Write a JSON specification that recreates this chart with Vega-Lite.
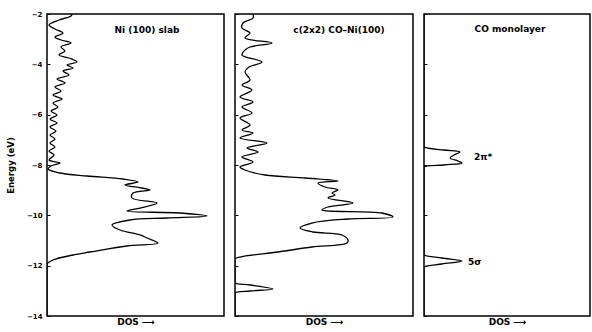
{
  "$schema": "https://vega.github.io/schema/vega-lite/v6.json",
  "padding": {"left": 5, "top": 9, "right": 0, "bottom": 0},
  "autosize": {"type": "pad"},
  "spacing": 8,
  "config": {
    "view": {"stroke": "black", "strokeWidth": 1.5},
    "font": "DejaVu Sans",
    "axis": {"grid": false, "tickColor": "black", "labelColor": "black", "titleColor": "black"}
  },
  "datasets": {
    "ni": [
      {"E": -2.000, "dos": 25}, {"E": -2.079, "dos": 24}, {"E": -2.238, "dos": 12}, {"E": -2.437, "dos": 2},
      {"E": -2.596, "dos": 8}, {"E": -2.755, "dos": 16}, {"E": -2.914, "dos": 8}, {"E": -3.033, "dos": 14},
      {"E": -3.152, "dos": 24}, {"E": -3.311, "dos": 14}, {"E": -3.470, "dos": 18}, {"E": -3.629, "dos": 12},
      {"E": -3.748, "dos": 22}, {"E": -3.907, "dos": 30}, {"E": -4.026, "dos": 20}, {"E": -4.146, "dos": 26},
      {"E": -4.265, "dos": 16}, {"E": -4.424, "dos": 22}, {"E": -4.583, "dos": 10}, {"E": -4.742, "dos": 18},
      {"E": -4.901, "dos": 8}, {"E": -5.060, "dos": 14}, {"E": -5.219, "dos": 6}, {"E": -5.377, "dos": 15},
      {"E": -5.536, "dos": 6}, {"E": -5.695, "dos": 11}, {"E": -5.854, "dos": 4}, {"E": -6.013, "dos": 10},
      {"E": -6.172, "dos": 3}, {"E": -6.331, "dos": 10}, {"E": -6.490, "dos": 3}, {"E": -6.649, "dos": 9},
      {"E": -6.808, "dos": 3}, {"E": -6.967, "dos": 8}, {"E": -7.126, "dos": 3}, {"E": -7.285, "dos": 8},
      {"E": -7.444, "dos": 2}, {"E": -7.603, "dos": 7}, {"E": -7.802, "dos": 2}, {"E": -7.921, "dos": 13},
      {"E": -8.040, "dos": 4}, {"E": -8.159, "dos": 1}, {"E": -8.318, "dos": 13}, {"E": -8.437, "dos": 40},
      {"E": -8.556, "dos": 76}, {"E": -8.675, "dos": 91}, {"E": -8.795, "dos": 78}, {"E": -8.914, "dos": 95},
      {"E": -8.993, "dos": 103}, {"E": -9.113, "dos": 86}, {"E": -9.311, "dos": 85}, {"E": -9.510, "dos": 110},
      {"E": -9.709, "dos": 93}, {"E": -9.828, "dos": 80}, {"E": -9.907, "dos": 133}, {"E": -10.026, "dos": 160},
      {"E": -10.106, "dos": 120}, {"E": -10.185, "dos": 83}, {"E": -10.384, "dos": 65}, {"E": -10.583, "dos": 73},
      {"E": -10.781, "dos": 93}, {"E": -10.901, "dos": 100}, {"E": -11.099, "dos": 111}, {"E": -11.219, "dos": 80},
      {"E": -11.457, "dos": 43}, {"E": -11.576, "dos": 26}, {"E": -11.775, "dos": 6}, {"E": -11.934, "dos": 0},
      {"E": -12.02, "dos": 0}, {"E": -14.0, "dos": 0}
    ],
    "coni": [
      {"E": -2.000, "dos": 18}, {"E": -2.159, "dos": 18}, {"E": -2.358, "dos": 8}, {"E": -2.556, "dos": 7},
      {"E": -2.755, "dos": 15}, {"E": -2.954, "dos": 10}, {"E": -3.152, "dos": 37}, {"E": -3.311, "dos": 15},
      {"E": -3.430, "dos": 10}, {"E": -3.629, "dos": 7}, {"E": -3.907, "dos": 27}, {"E": -4.106, "dos": 14},
      {"E": -4.305, "dos": 10}, {"E": -4.623, "dos": 15}, {"E": -4.821, "dos": 7}, {"E": -5.020, "dos": 17},
      {"E": -5.298, "dos": 5}, {"E": -5.497, "dos": 18}, {"E": -5.695, "dos": 7}, {"E": -5.934, "dos": 17},
      {"E": -6.132, "dos": 5}, {"E": -6.411, "dos": 15}, {"E": -6.609, "dos": 7}, {"E": -6.728, "dos": 18},
      {"E": -6.927, "dos": 5}, {"E": -7.126, "dos": 32}, {"E": -7.325, "dos": 12}, {"E": -7.483, "dos": 23},
      {"E": -7.682, "dos": 7}, {"E": -7.881, "dos": 18}, {"E": -8.079, "dos": 5}, {"E": -8.199, "dos": 10},
      {"E": -8.397, "dos": 30}, {"E": -8.517, "dos": 70}, {"E": -8.636, "dos": 103}, {"E": -8.715, "dos": 83},
      {"E": -8.874, "dos": 90}, {"E": -8.993, "dos": 103}, {"E": -9.113, "dos": 97}, {"E": -9.192, "dos": 100},
      {"E": -9.311, "dos": 93}, {"E": -9.510, "dos": 118}, {"E": -9.669, "dos": 93}, {"E": -9.788, "dos": 87},
      {"E": -9.907, "dos": 147}, {"E": -10.066, "dos": 158}, {"E": -10.146, "dos": 113}, {"E": -10.305, "dos": 77},
      {"E": -10.503, "dos": 65}, {"E": -10.662, "dos": 78}, {"E": -10.781, "dos": 107}, {"E": -10.980, "dos": 113},
      {"E": -11.099, "dos": 112}, {"E": -11.258, "dos": 77}, {"E": -11.457, "dos": 43}, {"E": -11.656, "dos": 5},
      {"E": -11.735, "dos": 0}, {"E": -11.82, "dos": 0}, {"E": -12.60, "dos": 0}, {"E": -12.689, "dos": 0},
      {"E": -12.768, "dos": 15}, {"E": -12.927, "dos": 38}, {"E": -13.006, "dos": 15}, {"E": -13.086, "dos": 0},
      {"E": -13.17, "dos": 0}, {"E": -14.0, "dos": 0}
    ],
    "co": [
      {"E": -2.0, "dos": 0}, {"E": -7.20, "dos": 0}, {"E": -7.285, "dos": 0}, {"E": -7.404, "dos": 20},
      {"E": -7.483, "dos": 36}, {"E": -7.603, "dos": 30}, {"E": -7.722, "dos": 26}, {"E": -7.841, "dos": 34},
      {"E": -7.921, "dos": 38}, {"E": -8.000, "dos": 20}, {"E": -8.079, "dos": 0}, {"E": -8.16, "dos": 0},
      {"E": -11.50, "dos": 0}, {"E": -11.576, "dos": 0}, {"E": -11.695, "dos": 18}, {"E": -11.815, "dos": 38},
      {"E": -11.934, "dos": 18}, {"E": -12.053, "dos": 0}, {"E": -12.13, "dos": 0}, {"E": -14.0, "dos": 0}
    ]
  },
  "hconcat": [
    {
      "width": 177, "height": 302,
      "layer": [
        {
          "data": {"name": "ni"},
          "mark": {"type": "line", "color": "black", "strokeWidth": 1.3, "interpolate": "catmull-rom", "clip": true},
          "encoding": {
            "x": {"field": "dos", "type": "quantitative", "scale": {"domain": [0, 177], "nice": false},
                  "axis": {"title": "DOS ⟶", "labels": false, "ticks": false, "domain": false, "titleFontSize": 9, "titleFontWeight": "bold", "titlePadding": 1}},
            "y": {"field": "E", "type": "quantitative", "scale": {"domain": [-14, -2], "nice": false},
                  "axis": {"title": "Energy (eV)", "values": [-2, -3, -4, -5, -6, -7, -8, -9, -10, -11, -12, -13, -14],
                           "labelExpr": "datum.value % 2 === 0 ? datum.label : ''", "tickSize": -3, "domain": false,
                           "labelFontSize": 7, "labelFontWeight": "bold", "labelPadding": 8,
                           "titleFontSize": 8.5, "titleFontWeight": "bold", "titlePadding": 11}},
            "order": {"field": "E", "sort": "descending"}
          }
        },
        {
          "data": {"values": [{}]},
          "mark": {"type": "text", "fontSize": 9, "fontWeight": "bold", "text": "Ni (100) slab", "color": "black"},
          "encoding": {"x": {"datum": 100}, "y": {"datum": -2.64}}
        }
      ]
    },
    {
      "width": 178, "height": 302,
      "layer": [
        {
          "data": {"name": "coni"},
          "mark": {"type": "line", "color": "black", "strokeWidth": 1.3, "interpolate": "catmull-rom", "clip": true},
          "encoding": {
            "x": {"field": "dos", "type": "quantitative", "scale": {"domain": [0, 178], "nice": false},
                  "axis": {"title": "DOS ⟶", "labels": false, "ticks": false, "domain": false, "titleFontSize": 9, "titleFontWeight": "bold", "titlePadding": 1}},
            "y": {"field": "E", "type": "quantitative", "scale": {"domain": [-14, -2], "nice": false},
                  "axis": {"title": null, "labels": false, "values": [-2, -3, -4, -5, -6, -7, -8, -9, -10, -11, -12, -13, -14], "tickSize": -3, "domain": false}},
            "order": {"field": "E", "sort": "descending"}
          }
        },
        {
          "data": {"values": [{}]},
          "mark": {"type": "text", "fontSize": 9, "fontWeight": "bold", "text": "c(2x2) CO–Ni(100)", "color": "black"},
          "encoding": {"x": {"datum": 104}, "y": {"datum": -2.64}}
        }
      ]
    },
    {
      "width": 166, "height": 302,
      "layer": [
        {
          "data": {"name": "co"},
          "mark": {"type": "line", "color": "black", "strokeWidth": 1.3, "interpolate": "catmull-rom", "clip": true},
          "encoding": {
            "x": {"field": "dos", "type": "quantitative", "scale": {"domain": [0, 166], "nice": false},
                  "axis": {"title": "DOS ⟶", "labels": false, "ticks": false, "domain": false, "titleFontSize": 9, "titleFontWeight": "bold", "titlePadding": 1}},
            "y": {"field": "E", "type": "quantitative", "scale": {"domain": [-14, -2], "nice": false},
                  "axis": {"title": null, "labels": false, "values": [-2, -3, -4, -5, -6, -7, -8, -9, -10, -11, -12, -13, -14], "tickSize": -3, "domain": false}},
            "order": {"field": "E", "sort": "descending"}
          }
        },
        {
          "data": {"values": [{}]},
          "mark": {"type": "text", "fontSize": 9, "fontWeight": "bold", "text": "CO monolayer", "color": "black"},
          "encoding": {"x": {"datum": 86}, "y": {"datum": -2.6}}
        },
        {
          "data": {"values": [{"label": "2π*", "x": 50, "E": -7.68}, {"label": "5σ", "x": 44, "E": -11.85}]},
          "mark": {"type": "text", "fontSize": 9, "fontWeight": "bold", "align": "left", "color": "black"},
          "encoding": {"x": {"field": "x", "type": "quantitative"}, "y": {"field": "E", "type": "quantitative"}, "text": {"field": "label"}}
        }
      ]
    }
  ]
}
